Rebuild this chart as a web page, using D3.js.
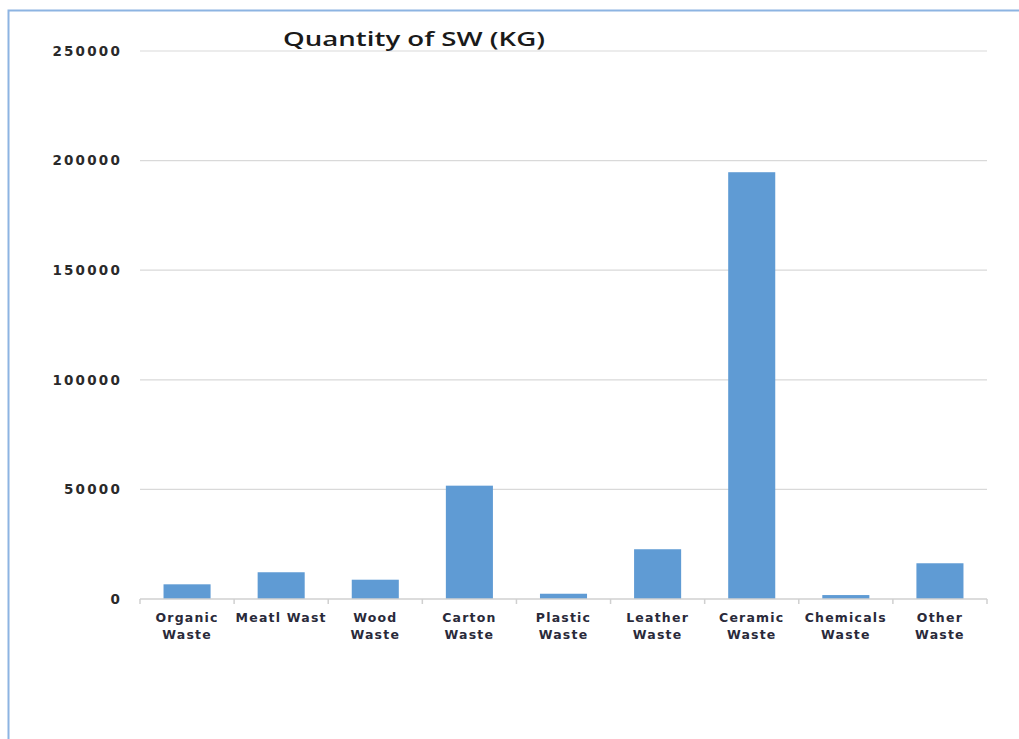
<!DOCTYPE html>
<html>
<head>
<meta charset="utf-8">
<script src="https://cdn.jsdelivr.net/npm/d3@7"></script>
<style>
  html, body { margin: 0; padding: 0; background: #fff; }
  svg { display: block; }
</style>
</head>
<body>
<div id="chart"></div>
<script>
// data
var categories = ["Organic|Waste", "Meatl Wast", "Wood|Waste", "Carton|Waste", "Plastic|Waste",
                  "Leather|Waste", "Ceramic|Waste", "Chemicals|Waste", "Other|Waste"];
var quantities = [6700, 12200, 8800, 51700, 2400, 22700, 194700, 1800, 16300];
var yTicks = [0, 50000, 100000, 150000, 200000, 250000];
var title = "Quantity of SW (KG)";

var data = categories.map((c, i) => ({cat: c, value: quantities[i]}));

var svgWidth = 1019, svgHeight = 739;
var margin = {top: 51, bottom: 140, left: 140, right: 32};

var svg = d3.select('#chart').append('svg')
    .attr('width', svgWidth).attr('height', svgHeight);

// frame (only top and left edges are visible in the crop)
svg.append('path')
    .attr('d', `M8.5,${svgHeight} L8.5,10.5 L${svgWidth},10.5`)
    .attr('fill', 'none')
    .attr('stroke', '#8db4e2')
    .attr('stroke-width', 2);

var xScale = d3.scaleBand()
    .domain(categories)
    .range([margin.left, svgWidth - margin.right])
    .paddingInner(0.5)
    .paddingOuter(0.25);

var yScale = d3.scaleLinear()
    .domain([0, 250000])
    .range([svgHeight - margin.bottom, margin.top]);

// gridlines
svg.append('g').selectAll('line')
    .data(yTicks.filter(d => d > 0))
    .enter().append('line')
    .attr('x1', margin.left).attr('x2', svgWidth - margin.right)
    .attr('y1', d => yScale(d)).attr('y2', d => yScale(d))
    .attr('stroke', '#d9d9d9').attr('stroke-width', 1.2);

// y labels
svg.append('g').selectAll('text')
    .data(yTicks)
    .enter().append('text')
    .attr('x', 122)
    .attr('y', d => yScale(d))
    .attr('dy', '0.36em')
    .attr('text-anchor', 'end')
    .attr('font-family', 'DejaVu Sans, sans-serif')
    .attr('font-size', 13.5)
    .attr('font-weight', 'bold')
    .attr('letter-spacing', 2.2)
    .attr('fill', '#2a2a2a')
    .text(d => d);

// bars
svg.append('g').selectAll('rect')
    .data(data)
    .enter().append('rect')
    .attr('x', d => xScale(d.cat))
    .attr('y', d => yScale(d.value))
    .attr('width', xScale.bandwidth())
    .attr('height', d => yScale(0) - yScale(d.value))
    .attr('fill', '#5f9bd4');

// x axis line and tick marks between categories
var y0 = yScale(0);
var gap = (xScale.step() - xScale.bandwidth()) / 2;
var boundaries = categories.map(c => xScale(c) - gap).concat([svgWidth - margin.right]);
svg.append('line')
    .attr('x1', margin.left).attr('x2', svgWidth - margin.right)
    .attr('y1', y0).attr('y2', y0)
    .attr('stroke', '#d0d0d0').attr('stroke-width', 1.5);
svg.append('g').selectAll('line')
    .data(boundaries)
    .enter().append('line')
    .attr('x1', d => d).attr('x2', d => d)
    .attr('y1', y0).attr('y2', y0 + 5)
    .attr('stroke', '#d0d0d0').attr('stroke-width', 1.5);

// x labels (two lines)
var xLabels = svg.append('g').selectAll('text')
    .data(categories)
    .enter().append('text')
    .attr('text-anchor', 'middle')
    .attr('font-family', 'DejaVu Sans, sans-serif')
    .attr('font-size', 12.5)
    .attr('font-weight', 'bold')
    .attr('letter-spacing', 1.2)
    .attr('fill', '#2a2a3a');
xLabels.each(function(c) {
    var lines = c.split('|');
    var t = d3.select(this);
    lines.forEach((l, i) => {
        t.append('tspan')
            .attr('x', xScale(c) + xScale.bandwidth() / 2)
            .attr('y', 622 + i * 17)
            .text(l);
    });
});

// title
svg.append('text')
    .attr('x', 283)
    .attr('y', 46)
    .attr('font-family', 'Open Sans, DejaVu Sans, sans-serif')
    .attr('font-size', 20)
    .attr('font-weight', 600)
    .attr('fill', '#1a1a1a')
    .attr('textLength', 262)
    .attr('lengthAdjust', 'spacingAndGlyphs')
    .text(title);
</script>
</body>
</html>
